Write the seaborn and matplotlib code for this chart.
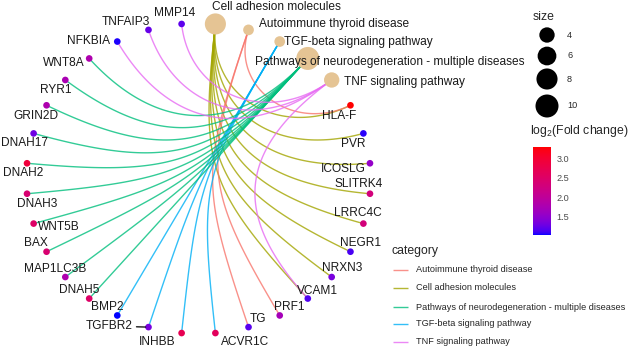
import numpy as np
import pandas as pd
import matplotlib
matplotlib.use("Agg")
import matplotlib.pyplot as plt
import seaborn as sns
from matplotlib.colors import ListedColormap, Normalize
from matplotlib.cm import ScalarMappable

# ---------------- data ----------------
categories = [
    "Cell adhesion molecules",
    "Autoimmune thyroid disease",
    "TGF-beta signaling pathway",
    "Pathways of neurodegeneration - multiple diseases",
    "TNF signaling pathway",
]
category_size = [8, 3, 3, 10, 4]

genes = ["HLA-F", "PVR", "ICOSLG", "SLITRK4", "LRRC4C", "NEGR1", "NRXN3",
         "VCAM1", "PRF1", "TG", "ACVR1C", "INHBB", "TGFBR2", "BMP2", "DNAH5",
         "MAP1LC3B", "BAX", "WNT5B", "DNAH3", "DNAH2", "DNAH17", "GRIN2D",
         "RYR1", "WNT8A", "NFKBIA", "TNFAIP3", "MMP14"]
log2fc = [3.28, 1.08, 1.55, 2.3, 2.3, 1.15, 1.35,
          1.18, 1.7, 1.2, 2.6, 2.7, 1.35, 1.04, 2.5,
          1.8, 2.4, 2.5, 2.4, 2.9, 1.3, 1.8,
          1.75, 1.8, 1.06, 1.25, 1.22]

cam_genes = ["HLA-F", "PVR", "ICOSLG", "SLITRK4", "LRRC4C", "NEGR1", "NRXN3", "VCAM1"]
aitd_genes = ["HLA-F", "PRF1", "TG"]
tgfb_genes = ["ACVR1C", "INHBB", "TGFBR2", "BMP2"]
neuro_genes = ["DNAH5", "MAP1LC3B", "BAX", "WNT5B", "DNAH3", "DNAH2",
               "DNAH17", "GRIN2D", "RYR1", "WNT8A"]
tnf_genes = ["VCAM1", "NFKBIA", "TNFAIP3", "MMP14"]
members = [cam_genes, aitd_genes, tgfb_genes, neuro_genes, tnf_genes]

size_breaks = [4, 6, 8, 10]
fc_ticks = [1.5, 2.0, 2.5, 3.0]

# ---------------- style ----------------
sns.set_style("white")
plt.rcParams["font.family"] = ["Liberation Sans", "DejaVu Sans"]
plt.rcParams["mathtext.fontset"] = "custom"
plt.rcParams["mathtext.rm"] = "Liberation Sans"
plt.rcParams["mathtext.default"] = "regular"

edge_palette = {
    "Autoimmune thyroid disease": "#F8766D",
    "Cell adhesion molecules": "#A3A500",
    "Pathways of neurodegeneration - multiple diseases": "#00BF7D",
    "TGF-beta signaling pathway": "#00B0F6",
    "TNF signaling pathway": "#E76BF3",
}
legend_order = sorted(categories)
category_fill = "#E5C494"


def lab_gradient(c0, c1, n=256):
    """Colour ramp interpolated in CIELAB space (like ggplot2 gradients)."""
    M = np.array([[0.4124, 0.3576, 0.1805],
                  [0.2126, 0.7152, 0.0722],
                  [0.0193, 0.1192, 0.9505]])
    white = np.array([0.95047, 1.0, 1.08883])

    def to_lab(rgb):
        rgb = np.asarray(rgb, float)
        lin = np.where(rgb <= 0.04045, rgb / 12.92, ((rgb + 0.055) / 1.055) ** 2.4)
        xyz = M @ lin / white
        f = np.where(xyz > 216 / 24389, np.cbrt(xyz), (24389 / 27 * xyz + 16) / 116)
        return np.array([116 * f[1] - 16, 500 * (f[0] - f[1]), 200 * (f[1] - f[2])])

    def to_rgb(lab):
        L, a, b = lab
        fy = (L + 16) / 116
        fx = fy + a / 500
        fz = fy - b / 200
        f = np.array([fx, fy, fz])
        xyz = np.where(f ** 3 > 216 / 24389, f ** 3, (116 * f - 16) / (24389 / 27)) * white
        lin = np.linalg.solve(M, xyz)
        lin = np.clip(lin, 0, 1)
        rgb = np.where(lin <= 0.0031308, 12.92 * lin, 1.055 * lin ** (1 / 2.4) - 0.055)
        return np.clip(rgb, 0, 1)

    l0, l1 = to_lab(c0), to_lab(c1)
    cols = [to_rgb(l0 + (l1 - l0) * t) for t in np.linspace(0, 1, n)]
    return ListedColormap(cols)


fc_cmap = lab_gradient((0, 0, 1), (1, 0, 0))
fc_norm = Normalize(vmin=min(log2fc), vmax=max(log2fc))


def node_diameter_px(v):
    lo, hi = 3, 10
    return 10.7 + 12.3 * np.sqrt((v - lo) / (hi - lo))


def marker_area(v):
    return (node_diameter_px(v) * 0.72) ** 2

# ---------------- circular layout ----------------
nodes = categories + genes
n = len(nodes)
ang = np.pi / 2 - (np.arange(n) + 0.5) * 2 * np.pi / n
pos = {name: np.array([np.cos(a), np.sin(a)]) for name, a in zip(nodes, ang)}

# arcs: cubic curves leaving each end radially towards the centre
t = np.linspace(0, 1, 80)[:, None]
rows = []
eid = 0
for cat, gl in zip(categories, members):
    p0 = pos[cat]
    for g in gl:
        p3 = pos[g]
        half = np.linalg.norm(p3 - p0) / 2
        p1 = p0 * (1 - half)
        p2 = p3 * (1 - half)
        pts = ((1 - t) ** 3) * p0 + 3 * ((1 - t) ** 2) * t * p1 \
            + 3 * (1 - t) * (t ** 2) * p2 + (t ** 3) * p3
        for x, y in pts:
            rows.append((eid, cat, x, y))
        eid += 1
edges = pd.DataFrame(rows, columns=["edge", "category", "x", "y"])

cat_df = pd.DataFrame({"name": categories,
                       "x": [pos[c][0] for c in categories],
                       "y": [pos[c][1] for c in categories],
                       "size": category_size})
gene_df = pd.DataFrame({"name": genes,
                        "x": [pos[g][0] for g in genes],
                        "y": [pos[g][1] for g in genes],
                        "fc": log2fc})

# ---------------- figure ----------------
W, H = 634, 349
fig = plt.figure(figsize=(W / 100, H / 100), dpi=100)
ax = fig.add_axes([0, 0, 1, 1])
cx, cy, rx, ry = 198.5, 178.5, 172.3, 155.3
ax.set_xlim(-cx / rx, (W - cx) / rx)
ax.set_ylim(-(H - cy) / ry, cy / ry)
ax.axis("off")

sns.lineplot(data=edges, x="x", y="y", hue="category", units="edge",
             estimator=None, sort=False, palette=edge_palette,
             linewidth=1.0, alpha=0.8, legend=False, ax=ax, zorder=1)

sns.scatterplot(data=cat_df, x="x", y="y", size="size",
                sizes={v: marker_area(v) for v in category_size},
                color=category_fill, edgecolor="none", legend=False,
                ax=ax, zorder=3)
sns.scatterplot(data=gene_df, x="x", y="y", hue="fc", palette=fc_cmap,
                hue_norm=(fc_norm.vmin, fc_norm.vmax), s=23,
                edgecolor="none", legend=False, ax=ax, zorder=3)

# label offsets in pixels (dx right, dy down)
label_offset = {
    "Cell adhesion molecules": (60.6, -17), "Autoimmune thyroid disease": (85.5, -6),
    "TGF-beta signaling pathway": (78.3, 0.5),
    "Pathways of neurodegeneration - multiple diseases": (82.2, 3.5),
    "TNF signaling pathway": (73.3, 2),
    "HLA-F": (-11, 11), "PVR": (-10, 11), "ICOSLG": (-27, 6), "SLITRK4": (-11, -10),
    "LRRC4C": (-6, -11), "NEGR1": (10, -9), "NRXN3": (10, -9), "VCAM1": (10, -8),
    "PRF1": (10, -8), "TG": (9.5, -8), "ACVR1C": (30, 9), "INHBB": (-24, 9),
    "TGFBR2": (-39.5, -1), "BMP2": (-10, -8), "DNAH5": (-10, -8.5),
    "MAP1LC3B": (-10, -8), "BAX": (-10.6, -9), "WNT5B": (25.4, 3.4),
    "DNAH3": (10, 10), "DNAH2": (-4, 10), "DNAH17": (-9.6, 9.6),
    "GRIN2D": (-10.6, 11), "RYR1": (-10, 10), "WNT8A": (-25, 4.5),
    "NFKBIA": (-29, -0.5), "TNFAIP3": (-22.5, -8), "MMP14": (-6.6, -11),
}
for name in nodes:
    dx, dy = label_offset[name]
    kw = {}
    if name == "TGFBR2":
        kw["arrowprops"] = dict(arrowstyle="-", color="black", lw=0.9,
                                shrinkA=0.5, shrinkB=2)
    ax.annotate(name, xy=pos[name], xytext=(dx * 0.72, -dy * 0.72),
                textcoords="offset points", ha="center", va="center",
                fontsize=8.6, color="#1a1a1a", zorder=4, **kw)

# ---------------- legends ----------------
lg = fig.add_axes([0, 0, 1, 1], zorder=5)
lg.set_xlim(0, W)
lg.set_ylim(H, 0)
lg.axis("off")

title_fs, text_fs = 8.8, 6.6

lg.text(533, 17, "size", fontsize=title_fs, ha="left", va="center")
size_y = [35, 56, 79, 106]
lg.scatter([547] * len(size_breaks), size_y,
           s=[marker_area(v) for v in size_breaks], color="black", edgecolor="none")
for v, y in zip(size_breaks, size_y):
    lg.text(567, y, str(v), fontsize=text_fs, ha="left", va="center")

lg.text(530, 131, r"log$_2$(Fold change)", fontsize=title_fs, ha="left", va="center")
cax = fig.add_axes([533 / W, 1 - 235 / H, 18 / W, 88 / H], zorder=6)
cb = fig.colorbar(ScalarMappable(norm=fc_norm, cmap=fc_cmap), cax=cax, ticks=fc_ticks)
cb.outline.set_visible(False)
cax.tick_params(axis="y", direction="in", length=3.6, width=0.8, color="white",
                left=True, right=True, labelleft=False, labelright=True,
                labelsize=text_fs, labelcolor="#4d4d4d", pad=4)
cax.set_yticklabels([f"{v:.1f}" for v in fc_ticks])

lg.text(392, 251, "category", fontsize=title_fs, ha="left", va="center")
cat_y = [270, 288, 307, 324, 342]
for cat, y in zip(legend_order, cat_y):
    lg.plot([393, 408], [y, y], color=edge_palette[cat], lw=1.0, alpha=0.8,
            solid_capstyle="butt")
    lg.text(416, y, cat, fontsize=text_fs, ha="left", va="center")

fig.savefig("out.png", dpi=100, facecolor="white")
